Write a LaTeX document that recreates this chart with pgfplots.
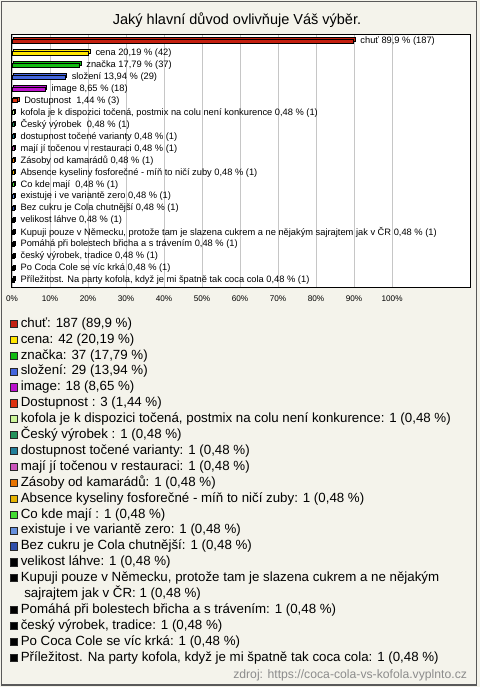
\documentclass[border=0pt]{standalone}
\usepackage{pgfplots}
\pgfplotsset{compat=1.18}
\usepackage{fontspec}
\setmainfont{Liberation Sans}
\definecolor{bgc}{HTML}{F4F3EB}
\definecolor{c1}{HTML}{C42010}
\definecolor{c2}{HTML}{FFE600}
\definecolor{c3}{HTML}{11BB11}
\definecolor{c4}{HTML}{4466DD}
\definecolor{c5}{HTML}{BB11CC}
\definecolor{c6}{HTML}{DD3311}
\definecolor{c7}{HTML}{CCF599}
\definecolor{c8}{HTML}{22915A}
\definecolor{c9}{HTML}{227F99}
\definecolor{c10}{HTML}{CC55BB}
\definecolor{c11}{HTML}{E67300}
\definecolor{c12}{HTML}{E6B400}
\definecolor{c13}{HTML}{44DD33}
\definecolor{c14}{HTML}{6690DD}
\definecolor{c15}{HTML}{2F4FAA}
\definecolor{c16}{HTML}{000000}
\pgfplotsset{
  back/.style={fill=#1, draw=black, line width=0.6pt, xshift=1.5pt, yshift=1.5pt, forget plot},
  front/.style={fill=#1, draw=black, line width=0.6pt},
}
\begin{document}
\begin{tikzpicture}
\fill[bgc] (0,0) rectangle (480pt,687pt);
\draw[black!65, line width=1.2pt] (1.8pt,2pt) rectangle (476.5pt,685.2pt);
\node[font=\fontsize{14.5}{17}\selectfont] at (237pt,667pt) {Jaký hlavní důvod ovlivňuje Váš výběr.};
\node[font=\fontsize{12.2}{14}\selectfont, text=black!45, anchor=east] at (470.5pt,12pt) {zdroj: https://coca-cola-vs-kofola.vyplnto.cz};
\begin{axis}[
  at={(11pt,400pt)}, anchor=south west,
  scale only axis, width=459pt, height=253pt,
  axis background/.style={fill=white},
  axis line style={black, line width=0.9pt},
  xbar, bar width=4pt, bar shift=0pt,
  every axis plot post/.append style={bar shift=0pt, bar width=4pt},
  xmin=-0.26, xmax=120.5,
  ymin=-0.58, ymax=20.56, y dir=reverse,
  ytick=\empty,
  xtick={0,10,...,100},
  xticklabels={0\%,10\%,20\%,30\%,40\%,50\%,60\%,70\%,80\%,90\%,100\%},
  /pgf/number format/assume math mode=true,
  xticklabel style={font=\fontsize{8.2}{9}\selectfont, yshift=-5.5pt},
  major tick length=0pt,
  xmajorgrids, grid style={gray!45, line width=0.6pt},
  nodes near coords align={horizontal},
  every node near coord/.append style={font=\fontsize{9.3}{10}\selectfont, anchor=west, inner sep=0pt, xshift=6.5pt, text=black},
  legend cell align=left,
  legend image code/.code={\draw[#1, draw=black!85, line width=0.6pt] (0pt,-3.6pt) rectangle (7.2pt,3.6pt);},
  legend style={at={(axis description cs:0,0)}, anchor=north west, xshift=-1pt, yshift=-30.2pt,
    draw=none, fill=none, inner sep=0pt, outer sep=0pt,
    font=\fontsize{13.3}{15.9}\selectfont, row sep=2.9pt, column sep=3pt,
    nodes={inner sep=0pt, text height=10pt, text depth=3pt}},
]
\addplot[back=c1] coordinates {(89.9,0)};
\addplot[front=c1, nodes near coords={chuť 89,9 \% (187)}] coordinates {(89.9,0)};
\addlegendentry{chuť: 187 (89,9 \%)}
\addplot[back=c2] coordinates {(20.19,1)};
\addplot[front=c2, nodes near coords={cena 20,19 \% (42)}] coordinates {(20.19,1)};
\addlegendentry{cena: 42 (20,19 \%)}
\addplot[back=c3] coordinates {(17.79,2)};
\addplot[front=c3, nodes near coords={značka 17,79 \% (37)}] coordinates {(17.79,2)};
\addlegendentry{značka: 37 (17,79 \%)}
\addplot[back=c4] coordinates {(13.94,3)};
\addplot[front=c4, nodes near coords={složení 13,94 \% (29)}] coordinates {(13.94,3)};
\addlegendentry{složení: 29 (13,94 \%)}
\addplot[back=c5] coordinates {(8.65,4)};
\addplot[front=c5, nodes near coords={image 8,65 \% (18)}] coordinates {(8.65,4)};
\addlegendentry{image: 18 (8,65 \%)}
\addplot[back=c6] coordinates {(1.44,5)};
\addplot[front=c6, nodes near coords={Dostupnost~ 1,44 \% (3)}] coordinates {(1.44,5)};
\addlegendentry{Dostupnost : 3 (1,44 \%)}
\addplot[back=c7] coordinates {(0.48,6)};
\addplot[front=c7, nodes near coords={kofola je k dispozici točená, postmix na colu není konkurence 0,48 \% (1)}] coordinates {(0.48,6)};
\addlegendentry{kofola je k dispozici točená, postmix na colu není konkurence: 1 (0,48 \%)}
\addplot[back=c8] coordinates {(0.48,7)};
\addplot[front=c8, nodes near coords={Český výrobek~ 0,48 \% (1)}] coordinates {(0.48,7)};
\addlegendentry{Český výrobek : 1 (0,48 \%)}
\addplot[back=c9] coordinates {(0.48,8)};
\addplot[front=c9, nodes near coords={dostupnost točené varianty 0,48 \% (1)}] coordinates {(0.48,8)};
\addlegendentry{dostupnost točené varianty: 1 (0,48 \%)}
\addplot[back=c10] coordinates {(0.48,9)};
\addplot[front=c10, nodes near coords={mají jí točenou v restauraci 0,48 \% (1)}] coordinates {(0.48,9)};
\addlegendentry{mají jí točenou v restauraci: 1 (0,48 \%)}
\addplot[back=c11] coordinates {(0.48,10)};
\addplot[front=c11, nodes near coords={Zásoby od kamarádů 0,48 \% (1)}] coordinates {(0.48,10)};
\addlegendentry{Zásoby od kamarádů: 1 (0,48 \%)}
\addplot[back=c12] coordinates {(0.48,11)};
\addplot[front=c12, nodes near coords={Absence kyseliny fosforečné - míň to ničí zuby 0,48 \% (1)}] coordinates {(0.48,11)};
\addlegendentry{Absence kyseliny fosforečné - míň to ničí zuby: 1 (0,48 \%)}
\addplot[back=c13] coordinates {(0.48,12)};
\addplot[front=c13, nodes near coords={Co kde mají~ 0,48 \% (1)}] coordinates {(0.48,12)};
\addlegendentry{Co kde mají : 1 (0,48 \%)}
\addplot[back=c14] coordinates {(0.48,13)};
\addplot[front=c14, nodes near coords={existuje i ve variantě zero 0,48 \% (1)}] coordinates {(0.48,13)};
\addlegendentry{existuje i ve variantě zero: 1 (0,48 \%)}
\addplot[back=c15] coordinates {(0.48,14)};
\addplot[front=c15, nodes near coords={Bez cukru je Cola chutnější 0,48 \% (1)}] coordinates {(0.48,14)};
\addlegendentry{Bez cukru je Cola chutnější: 1 (0,48 \%)}
\addplot[back=c16] coordinates {(0.48,15)};
\addplot[front=c16, nodes near coords={velikost láhve 0,48 \% (1)}] coordinates {(0.48,15)};
\addlegendentry{velikost láhve: 1 (0,48 \%)}
\addplot[back=c16] coordinates {(0.48,16)};
\addplot[front=c16, legend image post style={yshift=7.95pt}, nodes near coords={Kupuji pouze v Německu, protože tam je slazena cukrem a ne nějakým sajrajtem jak v ČR 0,48 \% (1)}] coordinates {(0.48,16)};
\addlegendentry[text depth=18.9pt]{\vtop{\hbox{Kupuji pouze v Německu, protože tam je slazena cukrem a ne nějakým}\hbox{\hspace*{3.5pt}sajrajtem jak v ČR: 1 (0,48 \%)}}}
\addplot[back=c16] coordinates {(0.48,17)};
\addplot[front=c16, nodes near coords={Pomáhá při bolestech břicha a s trávením 0,48 \% (1)}] coordinates {(0.48,17)};
\addlegendentry{Pomáhá při bolestech břicha a s trávením: 1 (0,48 \%)}
\addplot[back=c16] coordinates {(0.48,18)};
\addplot[front=c16, nodes near coords={český výrobek, tradice 0,48 \% (1)}] coordinates {(0.48,18)};
\addlegendentry{český výrobek, tradice: 1 (0,48 \%)}
\addplot[back=c16] coordinates {(0.48,19)};
\addplot[front=c16, nodes near coords={Po Coca Cole se víc krká 0,48 \% (1)}] coordinates {(0.48,19)};
\addlegendentry{Po Coca Cole se víc krká: 1 (0,48 \%)}
\addplot[back=c16] coordinates {(0.48,20)};
\addplot[front=c16, nodes near coords={Příležitost. Na party kofola, když je mi špatně tak coca cola 0,48 \% (1)}] coordinates {(0.48,20)};
\addlegendentry{Příležitost. Na party kofola, když je mi špatně tak coca cola: 1 (0,48 \%)}
\end{axis}
\end{tikzpicture}
\end{document}
